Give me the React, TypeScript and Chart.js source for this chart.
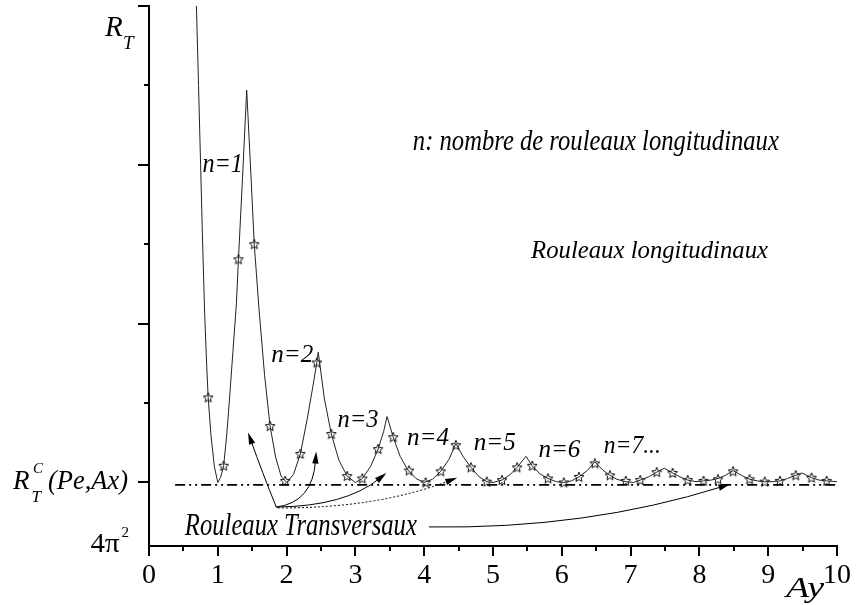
import React, { useEffect, useRef } from 'react';
import { Chart, registerables } from 'chart.js';

Chart.register(...registerables);

// ---------- data ----------
const xTickValues = [0, 1, 2, 3, 4, 5, 6, 7, 8, 9, 10];

// R_T(Ay) curve, in arbitrary units where R_T^C = 0 and 4π² = -0.8
const curveX = [
  0.68, 0.72, 0.75, 0.78, 0.81, 0.84, 0.86, 0.9, 0.95, 1.0,
  1.04, 1.085, 1.13, 1.17, 1.22, 1.27, 1.3, 1.36, 1.42,
  1.48, 1.53, 1.6, 1.68, 1.76, 1.84, 1.92, 2.0,
  2.1, 2.2, 2.3, 2.38, 2.44, 2.46,
  2.55, 2.65, 2.76, 2.88, 3.0,
  3.1, 3.22, 3.33, 3.41, 3.46,
  3.55, 3.65, 3.76, 3.88, 4.0,
  4.12, 4.24, 4.36, 4.46,
  4.57, 4.68, 4.8, 4.91, 5.0,
  5.13, 5.25, 5.35, 5.48,
  5.57, 5.68, 5.8, 5.92, 6.03,
  6.14, 6.25, 6.37, 6.48,
  6.59, 6.7, 6.8, 6.93, 7.04,
  7.14, 7.26, 7.38, 7.49,
  7.61, 7.72, 7.83, 7.95, 8.06,
  8.17, 8.27, 8.38, 8.49,
  8.61, 8.73, 8.84, 8.95, 9.06,
  9.17, 9.28, 9.4, 9.49,
  9.63, 9.74, 9.85, 10.0,
];
const curveY = [
  6.3, 5.0, 4.0, 3.0, 2.1, 1.45, 1.07, 0.6, 0.2, 0.0,
  0.06, 0.21, 0.6, 1.05, 1.65, 2.25, 2.81, 3.85, 4.94,
  3.9, 3.0, 2.17, 1.35, 0.71, 0.32, 0.08, 0.0,
  0.1, 0.36, 0.8, 1.2, 1.51, 1.64,
  1.05, 0.61, 0.28, 0.08, 0.0,
  0.05, 0.2, 0.42, 0.64, 0.83,
  0.57, 0.33, 0.16, 0.05, 0.0,
  0.04, 0.14, 0.29, 0.49,
  0.32, 0.19, 0.07, 0.01, 0.0,
  0.03, 0.1, 0.19, 0.33,
  0.21, 0.11, 0.05, 0.01, 0.0,
  0.02, 0.07, 0.15, 0.26,
  0.16, 0.09, 0.04, 0.01, 0.0,
  0.03, 0.07, 0.13, 0.18,
  0.12, 0.07, 0.03, 0.01, 0.02,
  0.03, 0.05, 0.09, 0.15,
  0.09, 0.04, 0.02, 0.01, 0.01,
  0.02, 0.05, 0.09, 0.12,
  0.06, 0.03, 0.02, 0.01,
];

// star markers (computed points)
const starX = [
  0.86, 1.085, 1.3, 1.53, 1.76, 1.98, 2.2, 2.44, 2.65, 2.88,
  3.1, 3.33, 3.55, 3.78, 4.02, 4.24, 4.46, 4.68, 4.91, 5.13,
  5.35, 5.57, 5.8, 6.03, 6.25, 6.48, 6.7, 6.93, 7.14, 7.38,
  7.61, 7.83, 8.06, 8.27, 8.49, 8.73, 8.95, 9.17, 9.4, 9.63, 9.85,
];
const starY = [
  1.07, 0.21, 2.81, 3.0, 0.71, 0.02, 0.36, 1.51, 0.61, 0.08,
  0.05, 0.42, 0.57, 0.15, 0.0, 0.14, 0.47, 0.19, 0.01, 0.03,
  0.19, 0.21, 0.05, 0.0, 0.07, 0.24, 0.09, 0.02, 0.03, 0.13,
  0.12, 0.03, 0.02, 0.04, 0.14, 0.04, 0.01, 0.02, 0.09, 0.06, 0.02,
];

// critical value line R_T^C(Pe,Ax)
const refX = [0.38, 10];
const refY = [-0.03, -0.03];

// mode labels
const modeLabels = ['n=1', 'n=2', 'n=3', 'n=4', 'n=5', 'n=6', 'n=7...'];
const modeLabelX = [0.776, 1.776, 2.74, 3.75, 4.72, 5.66, 6.61];
const modeLabelY = [3.91, 1.52, 0.695, 0.47, 0.41, 0.317, 0.368];

// arrows (quadratic curves): start, control, end, dotted?
const arrowStartX = [1.85, 1.85, 1.85, 1.87, 4.07];
const arrowStartY = [-0.31, -0.31, -0.31, -0.32, -0.56];
const arrowCtrlX = [1.64, 2.38, 2.85, 3.3, 6.36];
const arrowCtrlY = [0.14, -0.25, -0.3, -0.33, -0.59];
const arrowEndX = [1.44, 2.43, 3.45, 4.48, 8.45];
const arrowEndY = [0.63, 0.39, 0.12, 0.06, -0.02];
const arrowDotted = [false, false, false, true, false];

// free texts
const freeTexts = ['n: nombre de rouleaux longitudinaux', 'Rouleaux longitudinaux', 'Rouleaux Transversaux'];
const freeTextX = [3.835, 5.553, 0.521];
const freeTextY = [4.187, 2.823, -0.661];

const SERIF = '"Liberation Serif", "Times New Roman", serif';

function drawText(
  ctx: CanvasRenderingContext2D,
  s: string,
  x: number,
  y: number,
  size: number,
  italic: boolean,
  targetW?: number
) {
  ctx.save();
  ctx.font = `${italic ? 'italic ' : ''}${size}px ${SERIF}`;
  ctx.textAlign = 'left';
  ctx.textBaseline = 'alphabetic';
  ctx.fillStyle = '#000';
  ctx.translate(x, y);
  if (targetW) {
    const w = ctx.measureText(s).width;
    if (w > 0) ctx.scale(targetW / w, 1);
  }
  ctx.fillText(s, 0, 0);
  ctx.restore();
}

function makeStar(): HTMLCanvasElement {
  const c = document.createElement('canvas');
  c.width = 12;
  c.height = 12;
  const g = c.getContext('2d')!;
  const cx = 6, cy = 6.3, ro = 5.2, ri = 2.3;
  g.beginPath();
  for (let i = 0; i < 10; i++) {
    const r = i % 2 === 0 ? ro : ri;
    const a = -Math.PI / 2 + (i * Math.PI) / 5;
    const px = cx + r * Math.cos(a);
    const py = cy + r * Math.sin(a);
    if (i === 0) g.moveTo(px, py);
    else g.lineTo(px, py);
  }
  g.closePath();
  g.fillStyle = '#fff';
  g.fill();
  g.lineWidth = 1;
  g.strokeStyle = '#111';
  g.stroke();
  return c;
}

const decorPlugin = {
  id: 'decor',
  afterDatasetsDraw(chart: any) {
    const ctx: CanvasRenderingContext2D = chart.ctx;
    const xs = chart.scales.x;
    const ys = chart.scales.y;
    const area = chart.chartArea;

    // arrows
    for (let i = 0; i < arrowStartX.length; i++) {
      const p0x = xs.getPixelForValue(arrowStartX[i]);
      const p0y = ys.getPixelForValue(arrowStartY[i]);
      const cx = xs.getPixelForValue(arrowCtrlX[i]);
      const cy = ys.getPixelForValue(arrowCtrlY[i]);
      const p2x = xs.getPixelForValue(arrowEndX[i]);
      const p2y = ys.getPixelForValue(arrowEndY[i]);
      const ang = Math.atan2(p2y - cy, p2x - cx);
      const hl = 12, hw = 3.2;
      const bx = p2x - hl * Math.cos(ang);
      const by = p2y - hl * Math.sin(ang);
      ctx.save();
      ctx.strokeStyle = '#000';
      ctx.lineWidth = 1;
      if (arrowDotted[i]) ctx.setLineDash([2, 2]);
      ctx.beginPath();
      ctx.moveTo(p0x, p0y);
      ctx.quadraticCurveTo(cx, cy, bx + 3 * Math.cos(ang), by + 3 * Math.sin(ang));
      ctx.stroke();
      ctx.setLineDash([]);
      ctx.fillStyle = '#000';
      ctx.beginPath();
      ctx.moveTo(p2x, p2y);
      ctx.lineTo(bx + hw * Math.sin(ang), by - hw * Math.cos(ang));
      ctx.lineTo(bx - hw * Math.sin(ang), by + hw * Math.cos(ang));
      ctx.closePath();
      ctx.fill();
      ctx.restore();
    }

    // mode labels
    for (let i = 0; i < modeLabels.length; i++) {
      const w = [40.6, 42, 41, 42, 42, 42, 57][i];
      drawText(ctx, modeLabels[i], xs.getPixelForValue(modeLabelX[i]), ys.getPixelForValue(modeLabelY[i]), i === 0 ? 27 : 26, true, w);
    }

    // free texts
    const ftSize = [30, 26, 32];
    const ftW = [366, 237, 232];
    for (let i = 0; i < freeTexts.length; i++) {
      drawText(ctx, freeTexts[i], xs.getPixelForValue(freeTextX[i]), ys.getPixelForValue(freeTextY[i]), ftSize[i], true, ftW[i]);
    }

    // axis tick marks (major/minor)
    ctx.save();
    ctx.strokeStyle = '#000';
    ctx.lineWidth = 2;
    ctx.beginPath();
    for (let v = 0; v <= 10.001; v += 0.5) {
      const px = Math.round(xs.getPixelForValue(v));
      const len = Math.abs(v - Math.round(v)) < 1e-6 ? 10 : 5;
      ctx.moveTo(px, area.bottom);
      ctx.lineTo(px, area.bottom + len);
    }
    for (let v = 0; v <= 6.001; v += 1) {
      const py = Math.round(ys.getPixelForValue(v));
      const len = v % 2 === 0 ? 11 : 5;
      ctx.moveTo(area.left, py);
      ctx.lineTo(area.left - len, py);
    }
    ctx.stroke();
    ctx.restore();

    // y-axis labels
    const yTop = ys.getPixelForValue(6);
    const yC = ys.getPixelForValue(0);
    const yBot = ys.getPixelForValue(-0.8);
    drawText(ctx, 'R', area.left - 44, yTop + 30, 29, true);
    drawText(ctx, 'T', area.left - 26, yTop + 43, 19, true);
    drawText(ctx, 'R', area.left - 136, yC + 7, 27, true);
    drawText(ctx, 'C', area.left - 116, yC - 9, 15, true);
    drawText(ctx, 'T', area.left - 117.5, yC + 19.5, 17, true);
    drawText(ctx, '(Pe,Ax)', area.left - 101, yC + 7, 27, true, 80);
    drawText(ctx, '4π', area.left - 58.5, yBot + 6, 27, false, 29);
    drawText(ctx, '2', area.left - 27.5, yBot - 9.5, 15, false);
    // x-axis title
    drawText(ctx, 'Ay', area.right - 51, area.bottom + 51, 29, true, 38);
  },
};

export default function App() {
  const ref = useRef<HTMLCanvasElement | null>(null);

  useEffect(() => {
    if (!ref.current) return;
    const star = makeStar();
    const chart = new Chart(ref.current, {
      type: 'line',
      data: {
        datasets: [
          {
            label: 'Rc',
            data: refX.map((x, i) => ({ x, y: refY[i] })),
            borderColor: '#000',
            borderWidth: 1.8,
            borderDash: [10, 4, 2, 4, 2, 4],
            pointRadius: 0,
            fill: false,
          },
          {
            label: 'RT',
            data: curveX.map((x, i) => ({ x, y: curveY[i] })),
            borderColor: '#222',
            borderWidth: 1,
            pointRadius: 0,
            tension: 0,
            fill: false,
          },
          {
            label: 'stars',
            data: starX.map((x, i) => ({ x, y: starY[i] })),
            showLine: false,
            pointStyle: star as any,
            pointRadius: 5,
            borderColor: '#000',
            backgroundColor: '#fff',
          },
        ],
      },
      options: {
        responsive: false,
        animation: false,
        events: [],
        layout: { padding: { left: 0, top: 6, right: 16, bottom: 0 } },
        plugins: {
          legend: { display: false },
          tooltip: { enabled: false },
          title: { display: false },
        },
        scales: {
          x: {
            type: 'linear',
            min: 0,
            max: 10,
            afterFit: (s: any) => {
              s.height = 59;
            },
            afterBuildTicks: (s: any) => {
              s.ticks = xTickValues.map((v) => ({ value: v }));
            },
            grid: { display: false },
            border: { display: true, color: '#000', width: 2 },
            ticks: {
              color: '#000',
              font: { family: SERIF, size: 28 },
              padding: 5,
              maxRotation: 0,
              autoSkip: false,
              callback: (v: any) => String(v),
            },
          },
          y: {
            type: 'linear',
            min: -0.8,
            max: 6,
            afterFit: (s: any) => {
              s.width = 149;
            },
            grid: { display: false },
            border: { display: true, color: '#000', width: 2 },
            ticks: { display: false },
          },
        },
      },
      plugins: [decorPlugin],
    });
    return () => chart.destroy();
  }, []);

  return (
    <div style={{ position: 'fixed', left: 0, top: 0, width: 856, height: 605, background: '#fff' }}>
      <canvas ref={ref} width={856} height={605} style={{ display: 'block' }} />
    </div>
  );
}
